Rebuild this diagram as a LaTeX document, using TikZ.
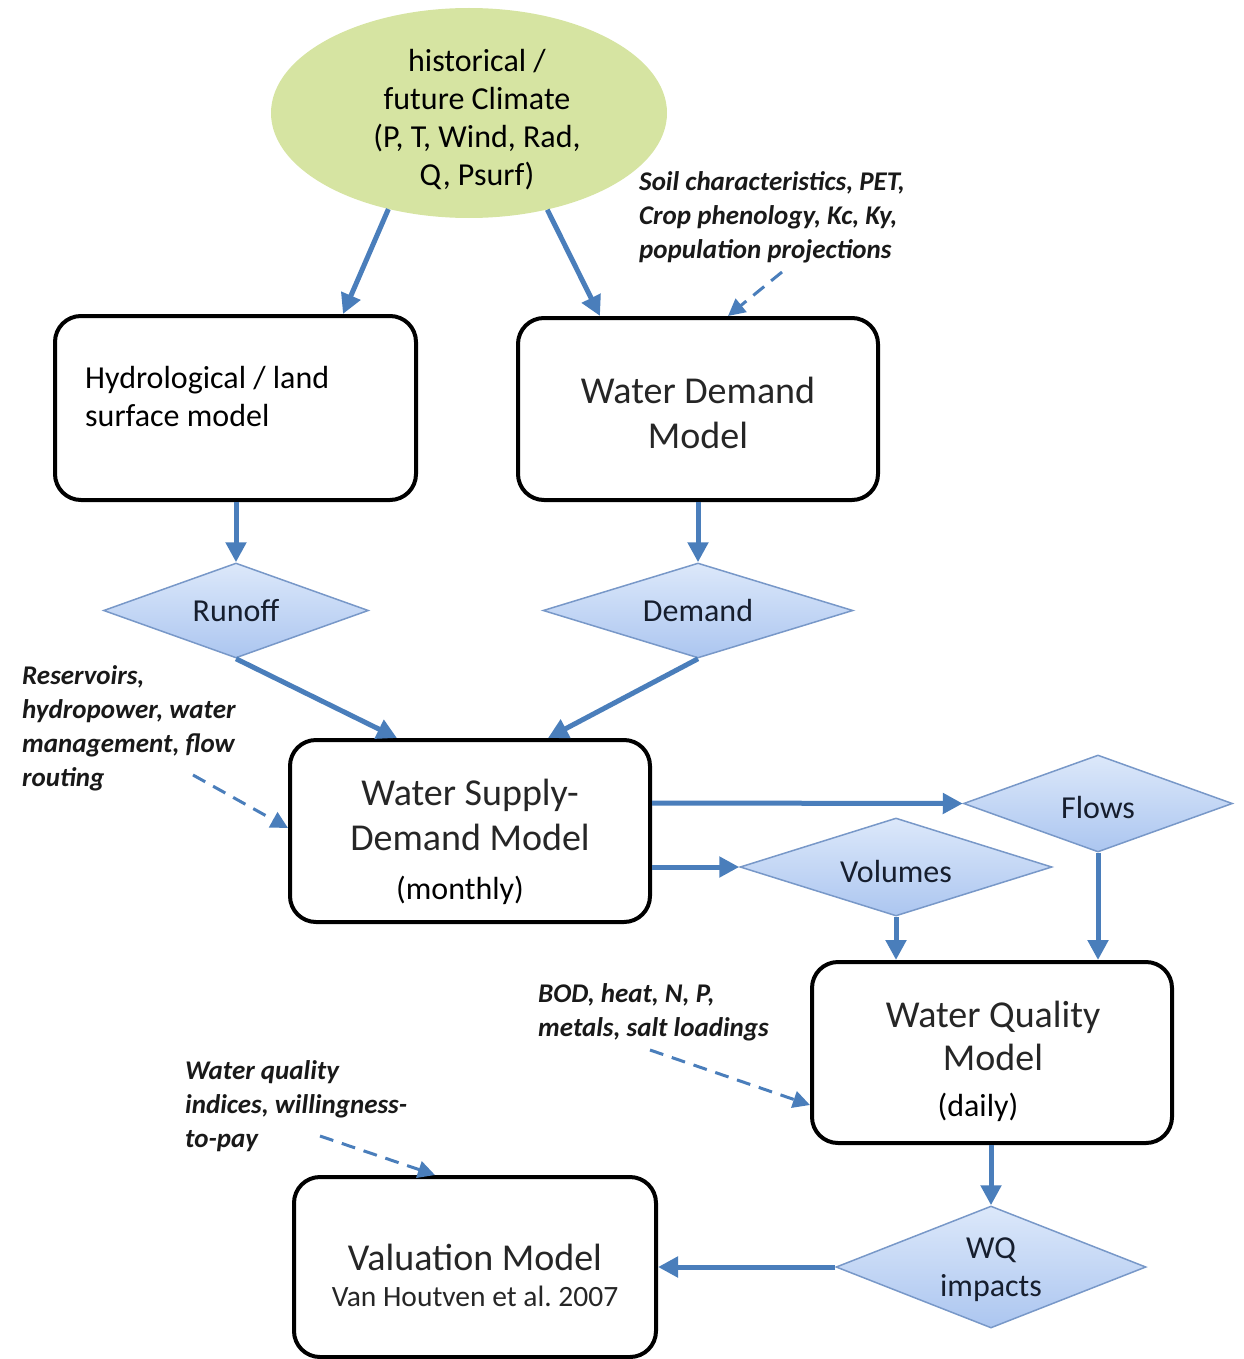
\documentclass[tikz,border=0pt]{standalone}
\usepackage{fontspec}
\setmainfont{Carlito}
\usetikzlibrary{shapes.geometric,arrows.meta,calc}
\definecolor{arrowblue}{RGB}{74,126,187}
\definecolor{climfill}{RGB}{214,228,162}
\definecolor{diatop}{RGB}{220,232,250}
\definecolor{diabot}{RGB}{172,198,240}
\definecolor{diaedge}{RGB}{120,152,200}
\definecolor{diatext}{RGB}{22,30,46}
\definecolor{boxtext}{RGB}{38,38,38}
\definecolor{notetext}{RGB}{25,25,25}
\tikzset{
  box/.style={draw=black, line width=4pt, rounded corners=26pt, fill=white},
  boxtxt/.style={align=center, inner sep=0pt, text=boxtext, font=\fontsize{38}{45}\selectfont},
  dia/.style={diamond, draw=diaedge, line width=1.5pt, top color=diatop,
    bottom color=diabot, inner sep=0pt, align=center, text=diatext,
    font=\fontsize{32}{38}\selectfont},
  diatxt/.style={align=center, inner sep=0pt, text=diatext, font=\fontsize{32}{38}\selectfont},
  flow/.style={draw=arrowblue, line width=5pt, -{Triangle[length=20pt,width=20pt]}},
  dflow/.style={draw=arrowblue, line width=3pt, dash pattern=on 14pt off 9pt,
    -{Triangle[length=17pt,width=17pt]}},
  note/.style={font=\fontsize{27}{34}\selectfont\bfseries\itshape, align=left,
    anchor=north west, inner sep=0pt, text=notetext},
}
\begin{document}
\begin{tikzpicture}[x=1pt,y=-1pt]
\useasboundingbox (0,0) rectangle (1243,1359);

% climate ellipse
\node (clim) [ellipse, fill=climfill, minimum width=396pt, minimum height=210pt,
  inner sep=0pt] at (469,113) {};
\node (climtxt) [align=center, inner sep=0pt, font=\fontsize{32}{38}\selectfont]
  at (477,120) {historical /\\future Climate\\(P, T, Wind, Rad,\\Q, Psurf)};

% model boxes
\node (hydro) [box, minimum width=361pt, minimum height=184pt] at (235.5,408) {};
\node (hydrotxt) [anchor=west, align=left, inner sep=0pt,
  font=\fontsize{32}{38}\selectfont] at (85,397) {Hydrological / land\\surface model};

\node (wd) [box, minimum width=360pt, minimum height=182pt] at (698,409) {};
\node (wdtxt) [boxtxt] at (698,412.5) {Water Demand\\Model};

\node (supply) [box, minimum width=360pt, minimum height=182pt] at (470,831) {};
\node (supplytxt) [boxtxt] at (470,842)
  {Water Supply-\\Demand Model\\[4pt]{\fontsize{32}{38}\selectfont\color{black}\hspace*{-20pt}(monthly)}};

\node (wq) [box, minimum width=360pt, minimum height=181pt] at (992,1052.5) {};
\node (wqtxt) [boxtxt, font=\fontsize{38}{43}\selectfont] at (993,1061)
  {Water Quality\\Model\\[3pt]{\fontsize{32}{38}\selectfont\color{black}\hspace*{-30pt}(daily)}};

\node (val) [box, minimum width=362pt, minimum height=180pt] at (475,1267) {};
\node (valtxt) [boxtxt] at (475,1275)
  {Valuation Model\\[-9pt]{\fontsize{29.5}{36}\selectfont Van Houtven et al.\ 2007}};

% diamonds
\node (runoff) [dia, aspect=2.8, minimum width=265pt, minimum height=95pt] at (236,610.5) {Runoff};
\node (demand) [dia, aspect=3.2, minimum width=310pt, minimum height=95pt] at (698,610.5) {Demand};
\node (flows) [dia, aspect=2.8, minimum width=269pt, minimum height=97pt] at (1098,803.5) {};
\node (flowstxt) [diatxt] at (1098,807) {Flows};
\node (vol) [dia, aspect=3.2, minimum width=312pt, minimum height=98pt] at (896,867) {};
\node (voltxt) [diatxt] at (896,871) {Volumes};
\node (wqi) [dia, aspect=2.5, minimum width=310pt, minimum height=122pt] at (991,1267) {};
\node (wqitxt) [diatxt] at (991,1270) {WQ\\impacts};

% notes
\node (soil) [note] at (639,171) {Soil characteristics, PET,\\Crop phenology, Kc, Ky,\\population projections};
\node (res) [note] at (22,665) {Reservoirs,\\hydropower, water\\management, flow\\routing};
\node (bod) [note] at (538,983) {BOD, heat, N, P,\\metals, salt loadings};
\node (wqind) [note] at (185,1060) {Water quality\\indices, willingness-\\to-pay};

\coordinate (soilfrom) at (782,272);
\coordinate (resfrom) at (193,775);
\coordinate (bodfrom) at (650,1050);
\coordinate (wqifrom) at (320,1136);

% solid connectors
\draw[flow] (clim.230) -- ($(hydro.north)+(107.5,0)$);
\draw[flow] (clim.309) -- ($(wd.north)+(-98,0)$);
\draw[flow] (hydro.south -| runoff.north) -- (runoff.north);
\draw[flow] (wd.south) -- (demand.north);
\draw[flow] (runoff.south) -- ($(supply.north)+(-73,0)$);
\draw[flow] (demand.south) -- ($(supply.north)+(78,0)$);
\draw[flow] ($(supply.east)+(0,-28)$) -- (flows.west);
\draw[flow] ($(supply.east)+(0,36)$) -- (vol.west);
\draw[flow] (vol.south) -- (vol.south |- wq.north);
\draw[flow] (flows.south) -- (flows.south |- wq.north);
\draw[flow] (wq.south -| wqi.north) -- (wqi.north);
\draw[flow] (wqi.west) -- (val.east);

% dashed connectors
\draw[dflow] (soilfrom) -- ($(wd.north)+(30,0)$);
\draw[dflow] (resfrom) -- ($(supply.west)+(0,-3)$);
\draw[dflow] (bodfrom) -- ($(wq.west)+(0,52.5)$);
\draw[dflow] (wqifrom) -- ($(val.north)+(-40,0)$);
\end{tikzpicture}
\end{document}
